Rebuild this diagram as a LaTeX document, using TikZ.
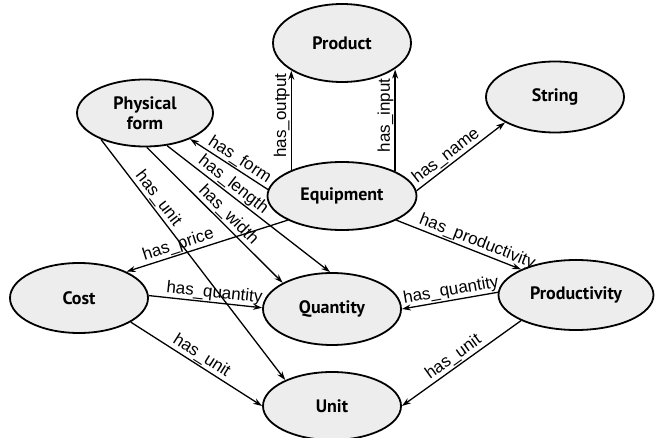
\documentclass[tikz,border=0pt]{standalone}
\usepackage{fontspec}
\setmainfont{Liberation Sans}
\newfontfamily\classfont{PT Sans}
\usetikzlibrary{shapes.geometric,arrows.meta}

\begin{document}
\begin{tikzpicture}[x=1pt,y=-1pt,
    cls/.style={ellipse, draw, line width=1.8pt, fill=gray!14, inner sep=0pt, align=center,
      font=\classfont\bfseries\fontsize{18}{20}\selectfont},
    rel/.style={-{Stealth[length=9pt,width=6pt]}, line width=1.3pt},
    lbl/.style={sloped, above, inner sep=1pt, font=\fontsize{17}{18}\selectfont}]
  \useasboundingbox (0,0) rectangle (656,438);

  % classes
  \node[cls, minimum width=138pt, minimum height=78pt] (prod) at (342,43) {Product};
  \node[cls, minimum width=136pt, minimum height=67pt] (pf) at (145,113) {Physical\\form};
  \node[cls, minimum width=138pt, minimum height=71pt] (str) at (555,97) {String};
  \node[cls, minimum width=149pt, minimum height=68pt] (eq) at (342,196) {Equipment};
  \node[cls, minimum width=138pt, minimum height=70pt] (cost) at (79,298) {Cost};
  \node[cls, minimum width=138pt, minimum height=72pt] (qty) at (332,309) {Quantity};
  \node[cls, minimum width=155pt, minimum height=70pt] (prodv) at (576,295) {Productivity};
  \node[cls, minimum width=138pt, minimum height=68pt] (unit) at (332,406) {Unit};

  % relations
  \draw[rel] (eq.153) -- (eq.153 |- prod.209) node[lbl, pos=.55] {has\_output};
  \draw[rel] (eq.25) -- (eq.25 |- prod.333) node[lbl, pos=.55] {has\_input};
  \draw[rel] (eq.4) -- (str.207) node[lbl, pos=.4] {has\_name};
  \draw[rel] (eq.175) -- (pf.330) node[lbl, pos=.43] {has\_form};
  \draw[rel] (pf.304) -- (qty.93) node[lbl, pos=.37] {has\_length};
  \draw[rel] (pf.273) -- (qty.152) node[lbl, pos=.55] {has\_width};
  \draw[rel] (pf.211) -- (unit.151) node[lbl, pos=.27] {has\_unit};
  \draw[rel] (eq.204) -- (cost.29) node[lbl, pos=.66] {has\_price};
  \draw[rel] (cost.2) -- (qty.179) node[lbl, pos=.57] {has\_quantity};
  \draw[rel] (cost.335) -- (unit.180) node[lbl, pos=.5] {has\_unit};
  \draw[rel] (eq.336) -- (prodv.155) node[lbl, pos=.62] {has\_productivity};
  \draw[rel] (prodv.178) -- (qty.0) node[lbl, pos=.47] {has\_quantity};
  \draw[rel] (prodv.205) -- (unit.0) node[lbl, pos=.52] {has\_unit};
\end{tikzpicture}
\end{document}
